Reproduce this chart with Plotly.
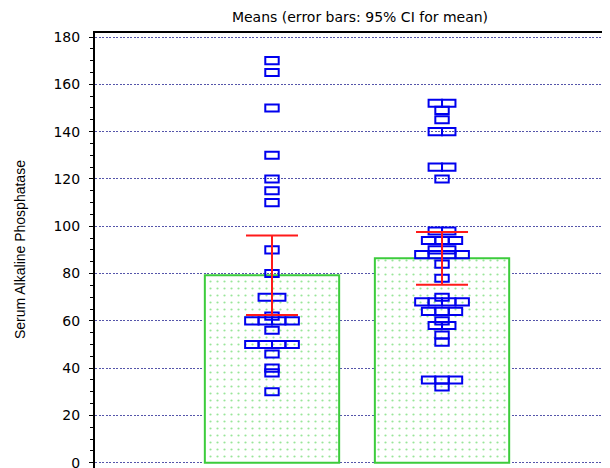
import numpy as np
import plotly.graph_objects as go

# data (two groups of raw values)
group_pos = [0, 1]
group1_values = [170, 165, 150, 130, 120, 115, 110, 90, 80, 70, 70, 62,
                 60, 60, 60, 60, 56, 50, 50, 50, 50, 46, 40, 38, 30]
group2_values = [152, 152, 149, 145, 140, 140, 125, 125, 120, 98, 98,
                 94, 94, 94, 90, 90, 88, 88, 88, 88, 84, 78, 70,
                 68, 68, 68, 68, 64, 64, 64, 60, 58, 58, 54, 51,
                 35, 35, 35, 32]
t_crit = [2.064, 2.024]  # t(0.975) for df = 24 and df = 38
y_ticks = [0, 20, 40, 60, 80, 100, 120, 140, 160, 180]

groups = [group1_values, group2_values]
means = [np.mean(v) for v in groups]
ci = [t * np.std(v, ddof=1) / np.sqrt(len(v)) for v, t in zip(groups, t_crit)]

STEP = 0.079   # horizontal spacing of tied points (x units)
BOX_H = 3.0    # point box height (y units)


def spread(values, center):
    """Place tied values side by side around the group centre."""
    xs, ys = [], []
    for val in sorted(set(values), reverse=True):
        n = values.count(val)
        for k in range(n):
            xs.append(center + (k - (n - 1) / 2) * STEP)
            ys.append(val)
    return xs, ys


pts_x, pts_y = [], []
for pos, vals in zip(group_pos, groups):
    xs, ys = spread(vals, pos)
    pts_x += xs
    pts_y += ys

fig = go.Figure()

# mean bars
fig.add_trace(go.Bar(
    x=group_pos, y=means, width=0.79,
    marker=dict(color="white",
                line=dict(color="#3ccc3c", width=2),
                pattern=dict(shape=".", fgcolor="#33cc33", bgcolor="white",
                             size=7, solidity=0.08)),
    showlegend=False, hoverinfo="skip"))

# raw points drawn as small open boxes
fig.add_trace(go.Bar(
    x=pts_x, y=[BOX_H] * len(pts_y), base=[v - BOX_H / 2 for v in pts_y],
    width=STEP,
    marker=dict(color="rgba(0,0,0,0)", line=dict(color="#0000ee", width=2)),
    showlegend=False, hoverinfo="skip"))

# 95% CI error bars on top
fig.add_trace(go.Scatter(
    x=group_pos, y=means, mode="markers",
    marker=dict(size=1, opacity=0),
    error_y=dict(type="data", array=ci, color="#ff1a1a", thickness=2, width=26),
    showlegend=False, hoverinfo="skip"))

# the page body adds an 8px offset, so positions below are shifted by 8
fig.update_layout(
    width=610, height=468,
    margin=dict(l=87, r=0, t=25, b=0),
    barmode="overlay",
    plot_bgcolor="white", paper_bgcolor="white",
    font=dict(family="DejaVu Sans", color="black"),
    title=dict(text="Means (error bars: 95% CI for mean)",
               x=352 / 610, xanchor="center", xref="container",
               y=1 - 9 / 468, yanchor="middle", yref="container",
               font=dict(size=14, family="DejaVu Sans", color="black")),
    annotations=[dict(text="Serum Alkaline Phosphatase", textangle=-90,
                      xref="paper", yref="paper", x=(12 - 87) / 523, y=0.51,
                      xanchor="center", yanchor="middle", showarrow=False,
                      font=dict(size=14, family="Liberation Sans", color="black"))],
)

fig.update_xaxes(range=[-1.041, 2.035], side="top", showline=True,
                 linecolor="black", linewidth=2, showgrid=False,
                 zeroline=False, showticklabels=False, ticks="",
                 automargin=False)

fig.update_yaxes(range=[-5.6, 181.7], tickvals=y_ticks, showline=True,
                 linecolor="black", linewidth=2, ticks="outside", ticklen=4,
                 tickcolor="black", ticklabelstandoff=6, automargin=False,
                 tickfont=dict(size=14, family="DejaVu Sans", color="black"),
                 showgrid=True, gridcolor="#5555aa", griddash="2px,1.5px",
                 gridwidth=1, zeroline=False,
                 minor=dict(dtick=5, ticks="outside", ticklen=3,
                            tickcolor="black", showgrid=False))

fig.write_html("out.html")
